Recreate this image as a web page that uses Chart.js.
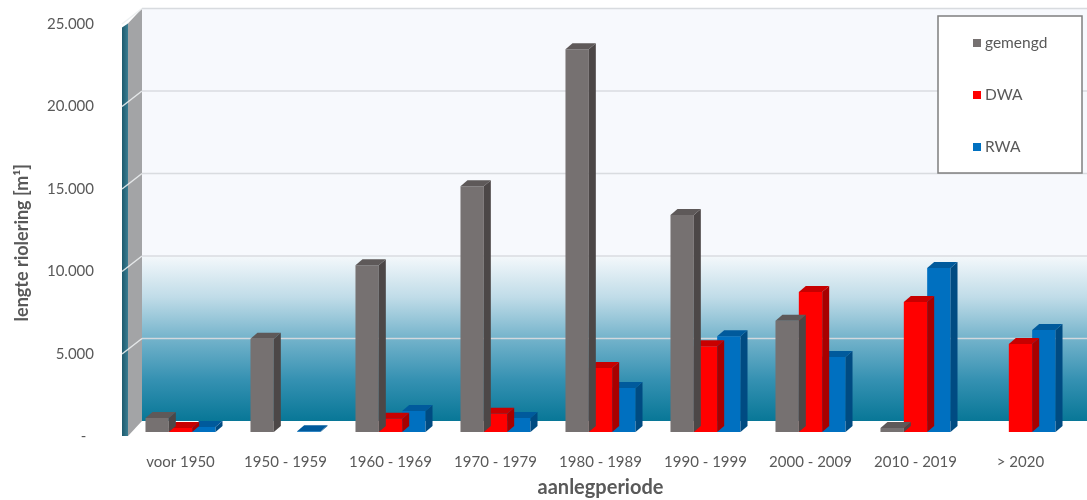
<!DOCTYPE html>
<html>
<head>
<meta charset="utf-8">
<script src="https://cdn.jsdelivr.net/npm/chart.js@4.4.1/dist/chart.umd.min.js"></script>
<style>
  body { margin: 0; background: #fff; }
  #wrap { width: 1087px; height: 500px; }
</style>
</head>
<body>
<div id="wrap"><canvas id="myChart"></canvas></div>
<script>
// data
var periods = ["voor 1950", "1950 - 1959", "1960 - 1969", "1970 - 1979", "1980 - 1989",
               "1990 - 1999", "2000 - 2009", "2010 - 2019", "> 2020"];
var gemengd = [850, 5650, 10100, 14900, 23200, 13150, 6750, 250, 0];
var dwa = [250, 0, 800, 1100, 3880, 5200, 8480, 7880, 5330];
var rwa = [300, 50, 1270, 850, 2670, 5800, 4550, 9940, 6180];
var yTicks = [0, 5000, 10000, 15000, 20000, 25000];

var grey = "#595959";
var font = "Lato";

// front, side, top colours per series
var faces = [
  ["#767171", "#4c4747", "#5e5959"],
  ["#ff0000", "#a80000", "#c80000"],
  ["#0070c0", "#004b82", "#005a9c"],
];

function fmt(v) {
  if (v === 0) return "-  ";
  return String(v).replace(/\B(?=(\d{3})+(?!\d))/g, ".");
}

var D = 7, DY = 6;        // bar depth
var WX = 14, WY = 11;     // back wall offset

var wallPlugin = {
  id: "wall",
  beforeDatasetsDraw: function (chart) {
    var c = chart.ctx, a = chart.chartArea, y = chart.scales.y;
    var yTop = y.getPixelForValue(25000), yBot = y.getPixelForValue(0);
    var y10 = y.getPixelForValue(10000);
    var bx = a.left + WX, right = chart.width;
    c.save();
    // back wall
    c.fillStyle = "#f7f9fd";
    c.fillRect(bx, yTop - WY, right - bx, y10 - yTop);
    var g = c.createLinearGradient(0, y10 - WY, 0, yBot - WY);
    g.addColorStop(0, "#f4f8fb");
    g.addColorStop(0.25, "#c0dce8");
    g.addColorStop(0.5, "#74b3cb");
    g.addColorStop(0.75, "#3591b2");
    g.addColorStop(1, "#087797");
    c.fillStyle = g;
    c.fillRect(bx, y10 - WY, right - bx, yBot - y10);
    // side wall
    c.fillStyle = "#a3a4a6";
    c.beginPath();
    c.moveTo(a.left, yTop + 4);
    c.lineTo(bx, yTop - WY);
    c.lineTo(bx, yBot - WY);
    c.lineTo(a.left, yBot + 4);
    c.closePath();
    c.fill();
    var tg = c.createLinearGradient(a.left - 6, 0, a.left, 0);
    tg.addColorStop(0, "#1d5a6d");
    tg.addColorStop(1, "#3a7d92");
    c.fillStyle = tg;
    c.beginPath();
    c.moveTo(a.left - 6, yTop + 8);
    c.lineTo(a.left, yTop + 4);
    c.lineTo(a.left, yBot + 4);
    c.lineTo(a.left - 6, yBot + 4);
    c.closePath();
    c.fill();
    // grid lines
    c.lineWidth = 1.5;
    yTicks.forEach(function (v) {
      if (v === 0) return;
      var p = y.getPixelForValue(v);
      c.strokeStyle = "rgba(215,218,222,0.95)";
      c.beginPath();
      c.moveTo(bx, p - WY);
      c.lineTo(right, p - WY);
      c.stroke();
      c.strokeStyle = "rgba(235,238,240,0.9)";
      c.beginPath();
      c.moveTo(a.left - 6, p + 4.5);
      c.lineTo(bx, p - WY);
      c.stroke();
    });
    c.restore();
  },
  afterDatasetDraw: function (chart, args) {
    var c = chart.ctx, col = faces[args.index];
    var vals = chart.data.datasets[args.index].data;
    c.save();
    args.meta.data.forEach(function (bar, i) {
      if (!vals[i]) return;
      var p = bar.getProps(["x", "y", "base", "width"], true);
      var l = p.x - p.width / 2, r = p.x + p.width / 2;
      c.fillStyle = col[1];
      c.beginPath();
      c.moveTo(r, p.y);
      c.lineTo(r + D, p.y - DY);
      c.lineTo(r + D, p.base - DY);
      c.lineTo(r, p.base);
      c.closePath();
      c.fill();
      c.fillStyle = col[2];
      c.beginPath();
      c.moveTo(l, p.y);
      c.lineTo(l + D, p.y - DY);
      c.lineTo(r + D, p.y - DY);
      c.lineTo(r, p.y);
      c.closePath();
      c.fill();
    });
    c.restore();
  },
  afterDraw: function (chart) {
    var c = chart.ctx, y = chart.scales.y;
    c.save();
    // y title
    c.translate(22, (y.getPixelForValue(0) + y.getPixelForValue(25000)) / 2 + 17);
    c.rotate(-Math.PI / 2);
    c.font = "bold 18px " + font;
    c.fillStyle = grey;
    c.textAlign = "center";
    c.textBaseline = "middle";
    c.fillText("lengte riolering [m\u00b9]", 0, 0);
    c.restore();
    // legend
    c.save();
    c.fillStyle = "#fff";
    c.fillRect(938, 16, 144, 157);
    c.strokeStyle = "#7f7f7f";
    c.lineWidth = 1.5;
    c.strokeRect(938, 16, 144, 157);
    c.font = "15.5px " + font;
    c.textBaseline = "middle";
    chart.data.datasets.forEach(function (ds, i) {
      var ly = 43 + i * 52;
      c.fillStyle = ds.backgroundColor;
      c.fillRect(973, ly - 4, 8, 8);
      c.fillStyle = grey;
      c.fillText(ds.label, 985, ly);
    });
    c.restore();
  },
};

var ctx = document.getElementById("myChart").getContext("2d");

var myChart = new Chart(ctx, {
  type: "bar",
  data: {
    labels: periods,
    datasets: [
      { label: "gemengd", data: gemengd, backgroundColor: faces[0][0] },
      { label: "DWA", data: dwa, backgroundColor: faces[1][0] },
      { label: "RWA", data: rwa, backgroundColor: faces[2][0] },
    ],
  },
  options: {
    responsive: true,
    maintainAspectRatio: false,
    animation: false,
    layout: { padding: { left: 0, right: 14, top: 19.5, bottom: 0 } },
    datasets: { bar: { categoryPercentage: 0.667, barPercentage: 1, borderWidth: 0 } },
    plugins: { legend: { display: false }, tooltip: { enabled: false } },
    scales: {
      x: {
        grid: { display: false },
        border: { display: false },
        ticks: { color: grey, font: { family: font, size: 15 }, padding: 13, maxRotation: 0 },
        title: { display: true, text: "aanlegperiode", color: grey,
                 font: { family: font, size: 20, weight: "bold" }, padding: { top: 0, bottom: 0 } },
        afterFit: function (s) { s.height = 68; s.paddingLeft = 0; s.paddingRight = 0; },
      },
      y: {
        min: 0,
        max: 25000,
        afterBuildTicks: function (s) { s.ticks = yTicks.map(function (v) { return { value: v }; }); },
        grid: { display: false },
        border: { display: false },
        ticks: { color: grey, font: { family: font, size: 15 }, padding: 26, labelOffset: 4.5,
                 callback: function (v) { return fmt(v); } },
        afterFit: function (s) { s.width = 128; s.paddingTop = 0; s.paddingBottom = 0; },
      },
    },
  },
  plugins: [wallPlugin],
});
</script>
</body>
</html>
